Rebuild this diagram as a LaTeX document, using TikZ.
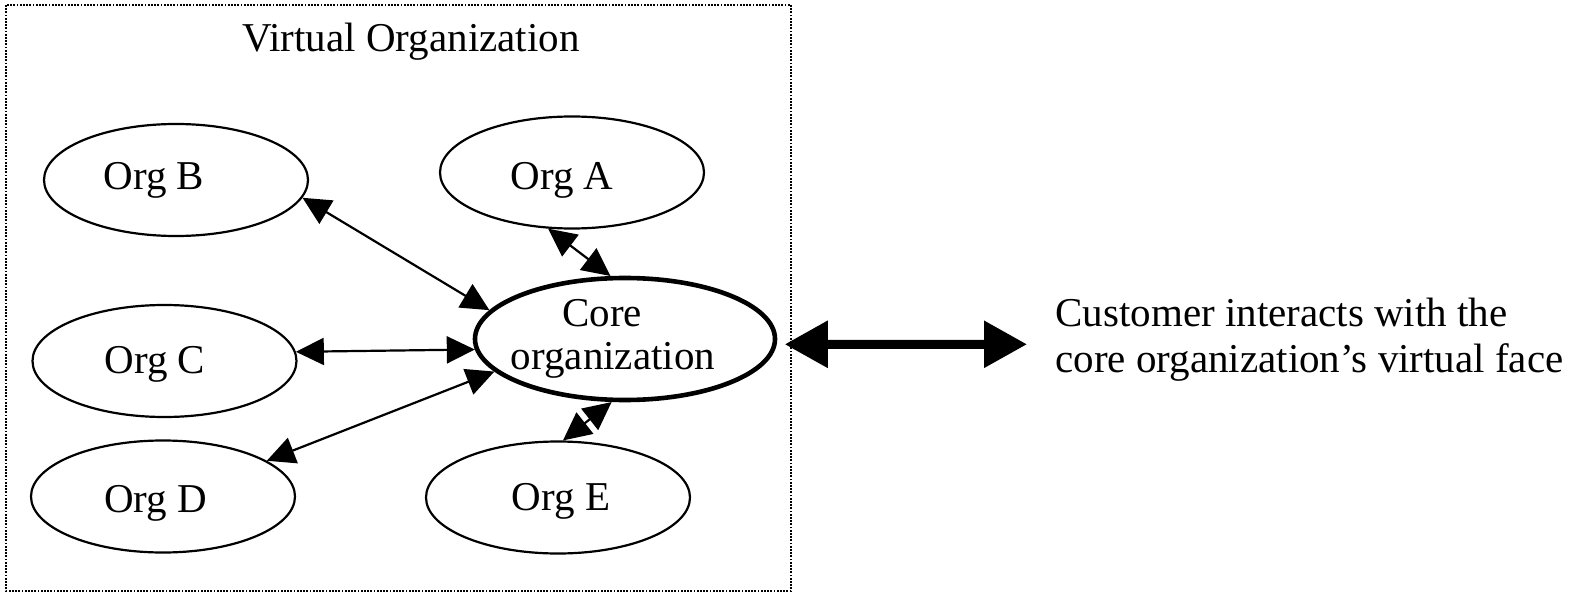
\documentclass[tikz,border=0pt]{standalone}
\usepackage{fontspec}
\setmainfont{Liberation Serif}
\usetikzlibrary{arrows.meta,shapes.geometric}
\begin{document}
\begin{tikzpicture}[x=0.5pt,y=-0.5pt,
  org/.style={ellipse, draw, line width=1.1pt, inner sep=0pt, minimum width=132pt, minimum height=56pt},
  coreorg/.style={ellipse, draw, line width=2.3pt, inner sep=0pt, minimum width=150pt, minimum height=61pt},
  lbl/.style={inner sep=0pt, anchor=base, font=\fontsize{20.5}{22.5}\selectfont},
  lblw/.style={inner sep=0pt, anchor=base west, font=\fontsize{20.5}{22.5}\selectfont},
  link/.style={line width=1.1pt, {Triangle[length=14pt,width=13.5pt]}-{Triangle[length=14pt,width=13.5pt]}},
  biglink/.style={line width=4.5pt, {Triangle[length=21.5pt,width=22.5pt]}-{Triangle[length=21.5pt,width=22.5pt]}},
  frame/.style={line width=1pt, dash pattern=on 0.9pt off 0.7pt}
]
\useasboundingbox (0,0) rectangle (1579,593);
\draw[frame] (6,5) rectangle (791,591);
\node[lbl] (title) at (411,52) {Virtual Organization};

\node[org] (B) at (176,180) {};
\node[org] (A) at (572,172.5) {};
\node[org] (C) at (164.5,361) {};
\node[org] (D) at (163,496.5) {};
\node[org] (E) at (558,497.5) {};
\node[coreorg] (core) at (625,339) {};

\node[lbl] (tB) at (154,190) {Org B};
\node[lbl] (tA) at (562,190) {Org A};
\node[lbl] (tC) at (155,373) {Org C};
\node[lbl] (tD) at (155.5,512) {Org D};
\node[lbl] (tE) at (561,510) {Org E};
\node[lbl] (tcore1) at (602,327) {Core};
\node[lbl] (tcore2) at (613,369) {organization};

\node[lblw] (cust1) at (1055,327) {Customer interacts with the};
\node[lblw] (cust2) at (1055,372) {core organization’s virtual face};

\draw[link] (B.-8) -- (core.168.5);
\draw[link] (A.-113) -- (core.103);
\draw[link] (C.4) -- (core.184);
\draw[link] (D.19) -- (core.194.7);
\draw[link] (core.258.5) -- (E.85);
\coordinate (cust) at (1027,344.3);
\draw[biglink, shorten <=4pt] (core.-2) -- (cust);
\end{tikzpicture}
\end{document}
